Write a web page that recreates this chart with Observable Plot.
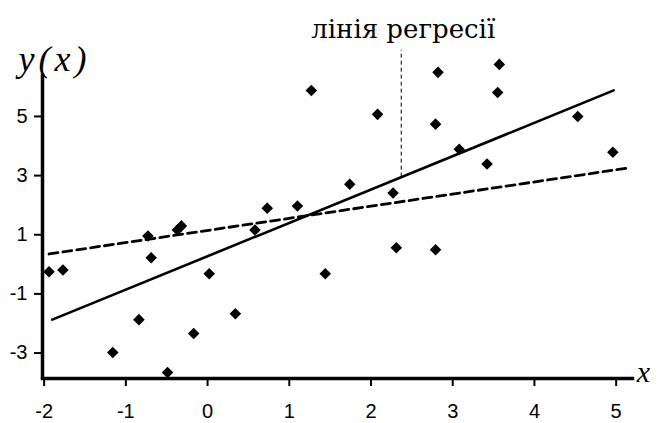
<!DOCTYPE html>
<html><head><meta charset="utf-8">
<script src="https://cdn.jsdelivr.net/npm/d3@7"></script>
<script src="https://cdn.jsdelivr.net/npm/@observablehq/plot@0.6"></script>
<style>body{margin:0;background:#fff}</style>
</head><body><div id="chart"></div>
<script>
// Scatter points
const pointX = [-1.94, -1.77, -0.73, -0.69, -0.37, -0.32, 0.02, 0.34, -0.84, -1.16, -0.17, -0.49,
                0.58, 0.73, 1.10, 1.74, 2.27, 2.31, 2.79, 1.44, 1.27, 2.08, 2.82, 2.79,
                3.57, 3.55, 3.08, 3.42, 4.53, 4.96];
const pointY = [-0.25, -0.19, 0.96, 0.22, 1.16, 1.30, -0.32, -1.67, -1.87, -2.98, -2.34, -3.66,
                1.16, 1.90, 1.97, 2.71, 2.41, 0.56, 0.49, -0.32, 5.88, 5.07, 6.49, 4.74,
                6.76, 5.81, 3.89, 3.39, 5.00, 3.79];
// Regression line (solid) endpoints
const fitX = [-1.90, 4.97];
const fitY = [-1.87, 5.88];
// Second (dashed) line endpoints
const trendX = [-1.94, 5.13];
const trendY = [0.35, 3.25];
// Annotation
const labelText = "лінія регресії";
const annotX = 2.37;
const annotTop = 7.23;
// Axes
const xTicks = [-2, -1, 0, 1, 2, 3, 4, 5];
const yTicks = [5, 3, 1, -1, -3];
const xDomain = [-2.02, 5.2];
const yDomain = [-3.86, 7.5];
const yAxisTop = 6.45;

const points = pointX.map((x, i) => ({x, y: pointY[i]}));
const fitLine = fitX.map((x, i) => ({x, y: fitY[i]}));
const trendLine = trendX.map((x, i) => ({x, y: trendY[i]}));
const yAxisLine = [{x: xDomain[0], y: yDomain[0]}, {x: xDomain[0], y: yAxisTop}];
const xAxisLine = [{x: xDomain[0], y: yDomain[0]}, {x: xDomain[1], y: yDomain[0]}];
const fitAt = x => fitY[0] + (fitY[1] - fitY[0]) * (x - fitX[0]) / (fitX[1] - fitX[0]);

const chart = Plot.plot({
  width: 661, height: 423,
  marginLeft: 42, marginRight: 29, marginTop: 42, marginBottom: 45,
  style: {fontFamily: "Liberation Sans", background: "white", color: "black", overflow: "visible"},
  x: {domain: xDomain},
  y: {domain: yDomain},
  marks: [
    Plot.axisX({ticks: xTicks, tickSize: 8, tickPadding: 17, fontSize: 20, strokeWidth: 2, tickFormat: d => String(d), label: null}),
    Plot.axisY({ticks: yTicks, tickSize: 8, tickPadding: 7, fontSize: 20, strokeWidth: 2, tickFormat: d => String(d), label: null}),
    Plot.line(yAxisLine, {x: "x", y: "y", strokeWidth: 3.5, stroke: "black", strokeLinecap: "butt"}),
    Plot.line(xAxisLine, {x: "x", y: "y", strokeWidth: 3.5, stroke: "black", strokeLinecap: "square"}),
    Plot.line(trendLine, {x: "x", y: "y", strokeWidth: 2.8, strokeDasharray: "9,5"}),
    Plot.line(fitLine, {x: "x", y: "y", strokeWidth: 2.6}),
    Plot.ruleX([annotX], {y1: fitAt(annotX), y2: annotTop, strokeWidth: 1, strokeDasharray: "4,3"}),
    Plot.dot(points, {x: "x", y: "y", symbol: "diamond2", r: 5.2, fill: "black", stroke: "none"}),
    Plot.text([labelText], {x: annotX, frameAnchor: "top", lineAnchor: "bottom", dy: -5, dx: 2,
      fontSize: 26, fontFamily: "'DejaVu Serif', serif", textAnchor: "middle"}),
    Plot.text(["y(x)"], {frameAnchor: "top-left", textAnchor: "start", dx: -24, dy: 3,
      fontSize: 36, fontStyle: "italic", fontFamily: "Liberation Serif"}),
    Plot.text(["x"], {frameAnchor: "bottom-right", textAnchor: "middle", dx: 11, dy: 3,
      fontSize: 30, fontStyle: "italic", fontFamily: "Liberation Serif"})
  ]
});
d3.select(chart).selectAll("text").filter(function() { return this.textContent === "y(x)"; })
  .attr("letter-spacing", "4px");
document.getElementById("chart").appendChild(chart);
</script>
</body></html>
